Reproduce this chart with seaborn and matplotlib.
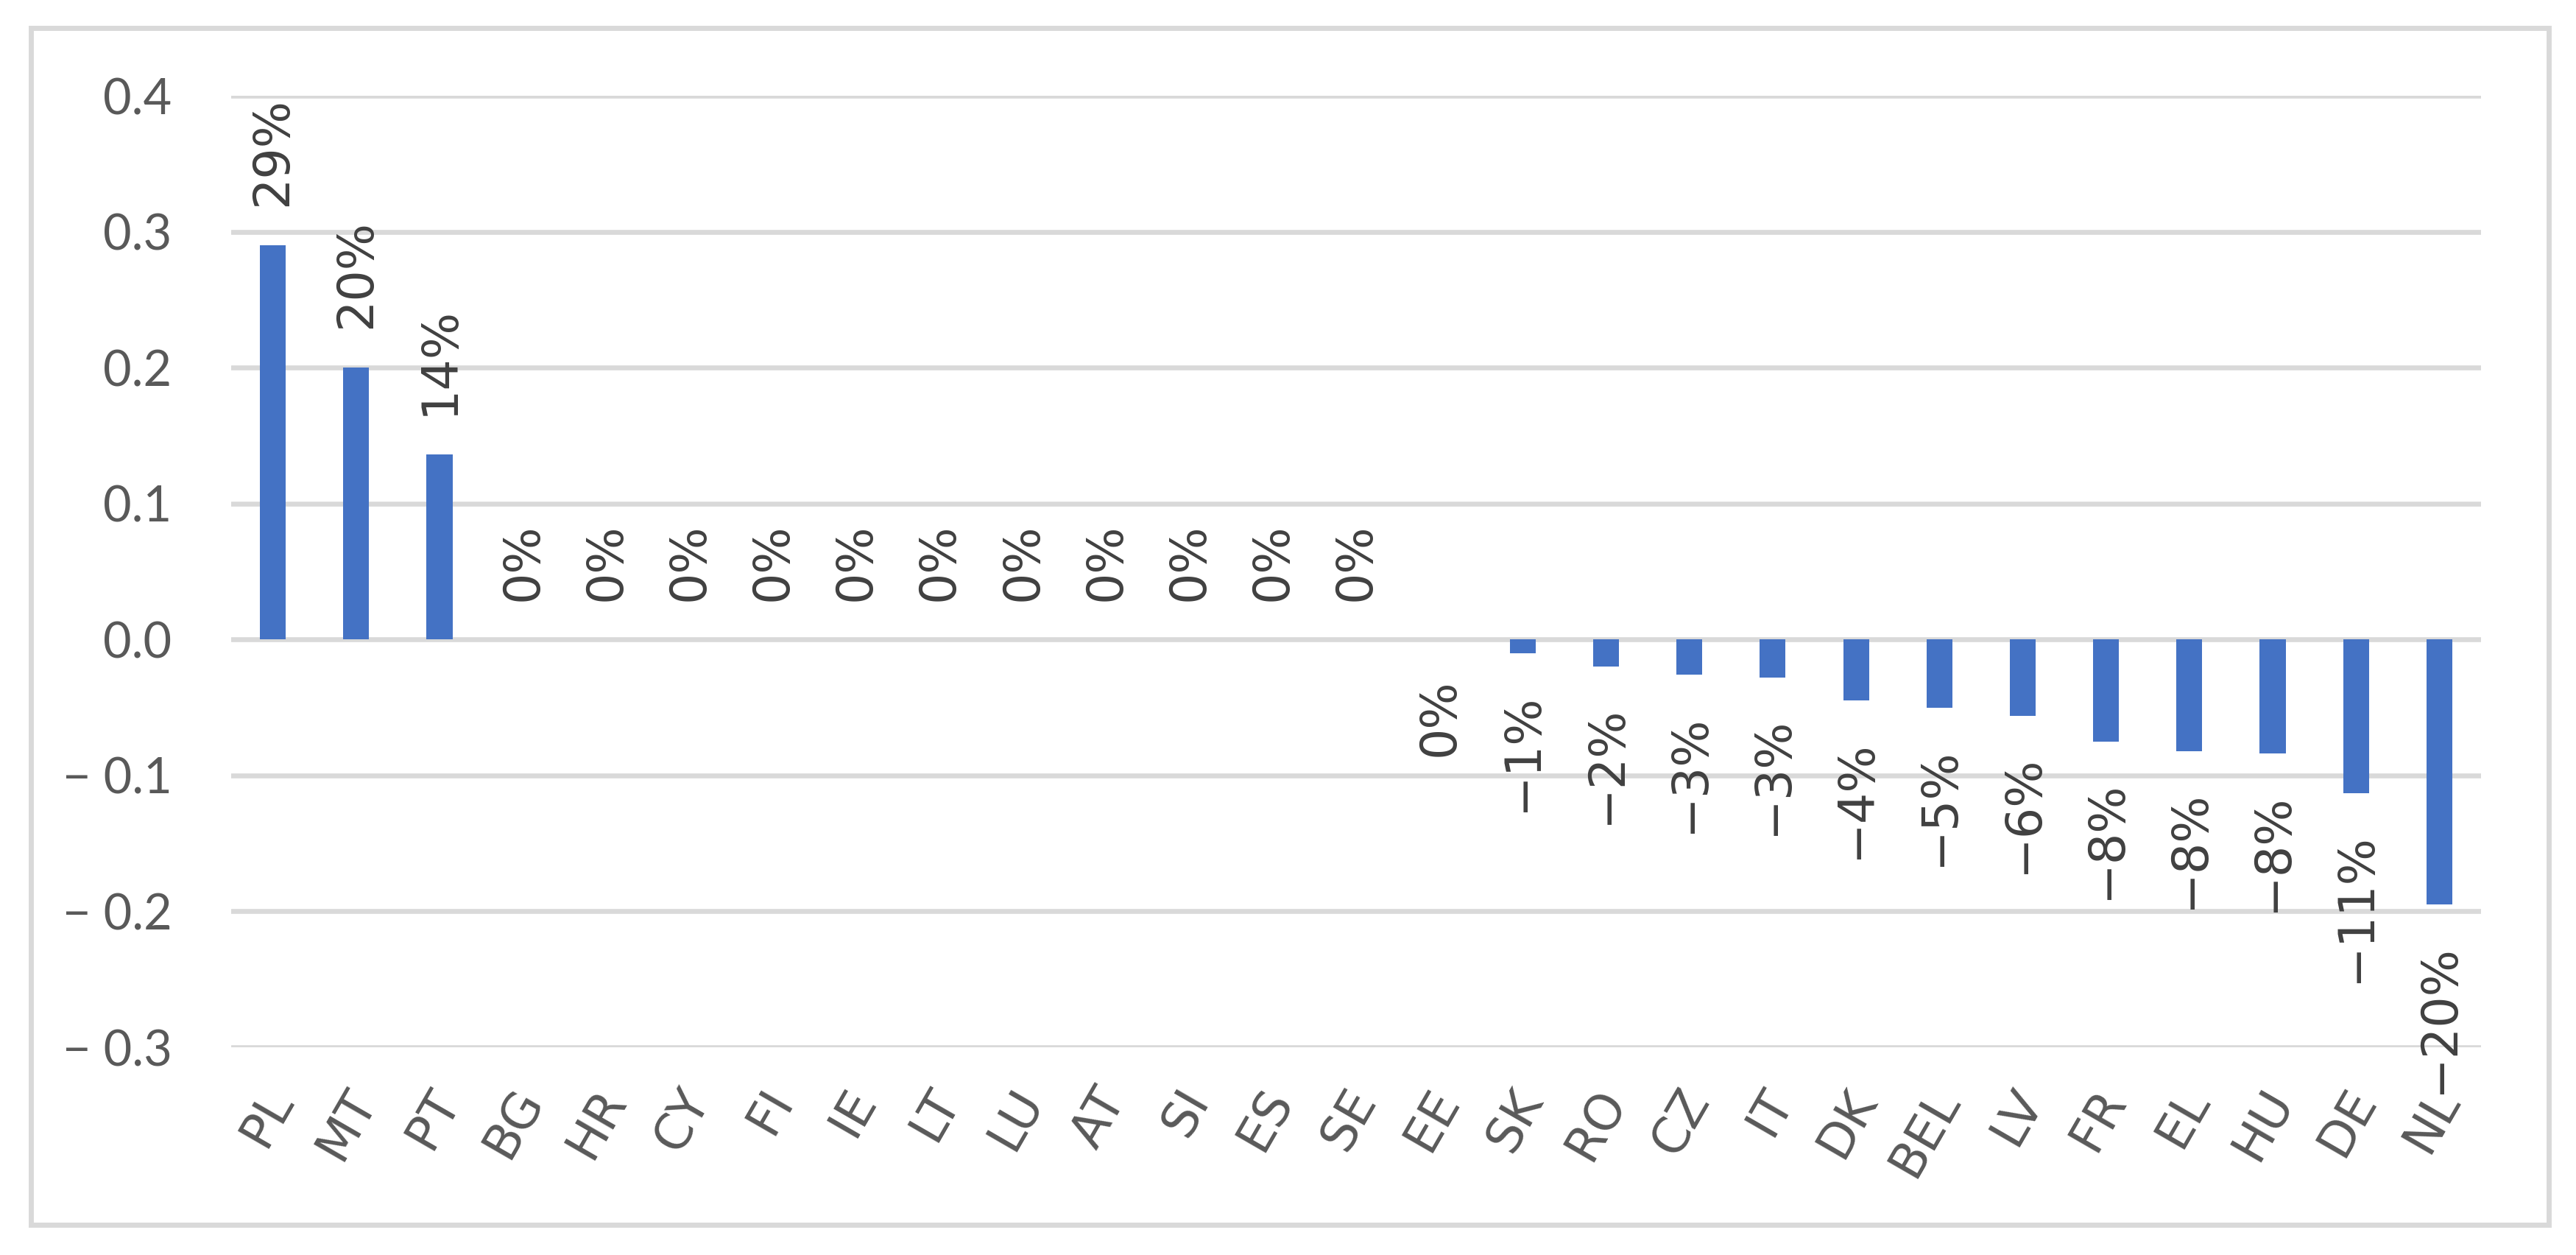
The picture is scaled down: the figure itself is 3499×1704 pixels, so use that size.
import matplotlib
matplotlib.use("Agg")
import matplotlib.pyplot as plt
import matplotlib.transforms as mtransforms
import seaborn as sns
import pandas as pd
from matplotlib.patches import Rectangle

countries = ["PL", "MT", "PT", "BG", "HR", "CY", "FI", "IE", "LT", "LU", "AT", "SI", "ES",
             "SE", "EE", "SK", "RO", "CZ", "IT", "DK", "BEL", "LV", "FR", "EL", "HU", "DE", "NL"]
values = [0.29, 0.20, 0.136, 0.0, 0.0, 0.0, 0.0, 0.0, 0.0, 0.0, 0.0, 0.0, 0.0,
          0.0, -0.0001, -0.0103, -0.020, -0.026, -0.028, -0.045, -0.0503, -0.056,
          -0.075, -0.082, -0.084, -0.113, -0.195]
labels = ["29%", "20%", "14%", "0%", "0%", "0%", "0%", "0%", "0%", "0%", "0%", "0%", "0%",
          "0%", "0%", "\u22121%", "\u22122%", "\u22123%", "\u22123%", "\u22124%", "\u22125%",
          "\u22126%", "\u22128%", "\u22128%", "\u22128%", "\u221211%", "\u221220%"]
yticks = [0.4, 0.3, 0.2, 0.1, 0.0, -0.1, -0.2, -0.3]
ytick_labels = ["0.4", "0.3", "0.2", "0.1", "0.0", "\u2212 0.1", "\u2212 0.2", "\u2212 0.3"]

sns.set_style("white")
plt.rcParams['font.family'] = ['DejaVu Sans']

df = pd.DataFrame({"country": countries, "value": values})

fig = plt.figure(figsize=(17.495, 8.52), dpi=200)
ax = fig.add_axes([314 / 3499, 1 - 1422 / 1704, (3370 - 314) / 3499, (1422 - 130) / 1704])

sns.barplot(data=df, x="country", y="value", color="#4472C4", width=0.31,
            saturation=1, linewidth=0, edgecolor="none", ax=ax, zorder=3)

ax.set_ylim(-0.3, 0.4)
ax.set_xlim(-0.5, len(countries) - 0.5)
ax.set_yticks(yticks)
ax.set_yticklabels(ytick_labels, family="Lato", fontsize=24, color="#595959")
ax.yaxis.grid(True, color="#D9D9D9", linewidth=2.4, zorder=0)
ax.set_axisbelow(True)
ax.tick_params(axis="both", length=0)
ax.tick_params(axis="y", pad=29)
ax.tick_params(axis="x", pad=22)
shift = mtransforms.ScaledTranslation(4 / 72, 0, fig.dpi_scale_trans)
for lab in ax.get_xticklabels():
    lab.set_rotation(60)
    lab.set_ha("right")
    lab.set_va("center")
    lab.set_rotation_mode("anchor")
    lab.set_fontsize(24)
    lab.set_color("#595959")
    lab.set_transform(lab.get_transform() + shift)
for s in ax.spines.values():
    s.set_visible(False)
ax.set_xlabel("")
ax.set_ylabel("")

# value labels, rotated, outside the bar end
for i, (v, t) in enumerate(zip(values, labels)):
    up = v >= 0
    ax.annotate(t, xy=(i, v), xytext=(0, 19 if up else -19), textcoords="offset points",
                rotation=90, ha="center", va="bottom" if up else "top",
                fontsize=24, color="#404040")

fig.patches.append(Rectangle((42 / 3499, 1 - 1663 / 1704), (3462 - 42) / 3499,
                             (1663 - 38) / 1704, transform=fig.transFigure,
                             fill=False, edgecolor="#D9D9D9", linewidth=2.5))

fig.savefig("out.png", dpi=200, facecolor="white")
